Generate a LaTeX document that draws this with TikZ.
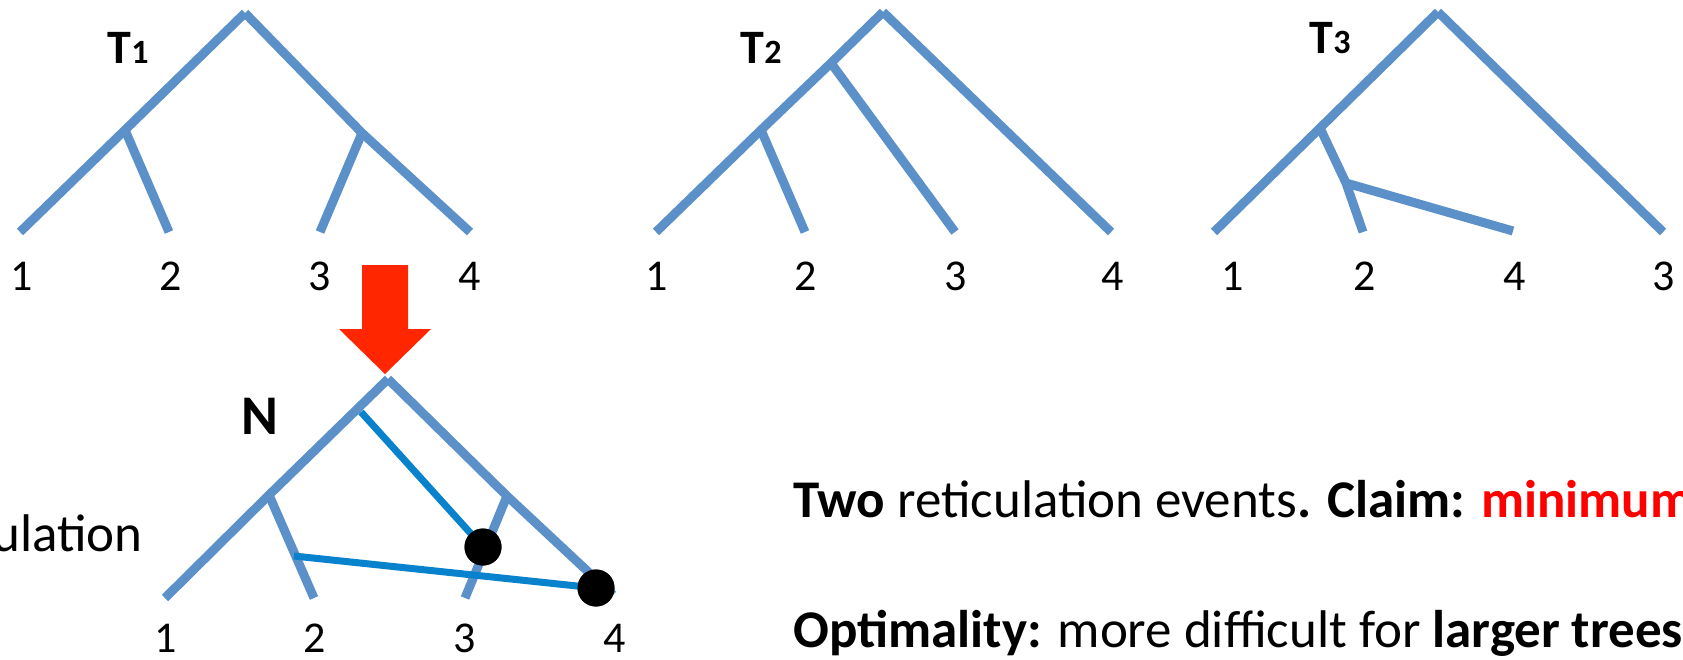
\documentclass[tikz,border=0pt]{standalone}
\usepackage{fontspec}
\setmainfont{Carlito}
\definecolor{treeblue}{RGB}{91,145,200}
\definecolor{retblue}{RGB}{8,130,204}
\definecolor{arrred}{RGB}{255,38,0}
\tikzset{
  edge/.style={draw=treeblue, line width=9pt},
  retedge/.style={draw=retblue, line width=7pt},
  leaflab/.style={font=\fontsize{44}{48}\selectfont, inner sep=0pt, anchor=center},
  treelab/.style={font=\fontsize{48}{52}\selectfont\bfseries, inner sep=0pt},
  retdot/.style={circle, fill=black, minimum size=37pt, inner sep=0pt},
  bodytext/.style={font=\fontsize{53}{57}\selectfont, inner sep=0pt, anchor=base west},
}
\begin{document}
\begin{tikzpicture}[x=1pt,y=-1pt]
\useasboundingbox (0,0) rectangle (1683,659);
\clip (0,0) rectangle (1683,659);
% ---------- T1 ----------
\coordinate (a0) at (245,13);
\coordinate (a12) at (125,130);
\coordinate (a34) at (362,133);
\coordinate (a1) at (20,232);
\coordinate (a2) at (169,232);
\coordinate (a3) at (320,232);
\coordinate (a4) at (470,232);
\draw[edge] (a0) -- (a12) -- (a1);
\draw[edge] (a12) -- (a2);
\draw[edge] (a0) -- (a34) -- (a4);
\draw[edge] (a34) -- (a3);
\node[treelab, anchor=base] (t1) at (128,63) {T\fontsize{34}{36}\selectfont 1};
\node[leaflab] (l1a) at (22,276) {1};
\node[leaflab] (l2a) at (171,276) {2};
\node[leaflab] (l3a) at (320,276) {3};
\node[leaflab] (l4a) at (470,276) {4};
% ---------- T2 ----------
\coordinate (b0) at (883,12);
\coordinate (b123) at (831,63);
\coordinate (b12) at (761,130);
\coordinate (b1) at (656,232);
\coordinate (b2) at (805,232);
\coordinate (b3) at (955,232);
\coordinate (b4) at (1111,232);
\draw[edge] (b0) -- (b123) -- (b12) -- (b1);
\draw[edge] (b12) -- (b2);
\draw[edge] (b123) -- (b3);
\draw[edge] (b0) -- (b4);
\node[treelab, anchor=base] (t2) at (761,63) {T\fontsize{34}{36}\selectfont 2};
\node[leaflab] (l1b) at (657,276) {1};
\node[leaflab] (l2b) at (806,276) {2};
\node[leaflab] (l3b) at (956,276) {3};
\node[leaflab] (l4b) at (1113,276) {4};
% ---------- T3 ----------
\coordinate (c0) at (1438,12);
\coordinate (c124) at (1320,128);
\coordinate (c24) at (1346,183);
\coordinate (c1) at (1214,232);
\coordinate (c2) at (1363,232);
\coordinate (c4) at (1513,231);
\coordinate (c3) at (1663,232);
\draw[edge] (c0) -- (c124) -- (c1);
\draw[edge] (c124) -- (c24) -- (c2);
\draw[edge] (c24) -- (c4);
\draw[edge] (c0) -- (c3);
\node[treelab, anchor=base] (t3) at (1330,53) {T\fontsize{34}{36}\selectfont 3};
\node[leaflab] (l1c) at (1233,276) {1};
\node[leaflab] (l2c) at (1365,276) {2};
\node[leaflab] (l4c) at (1515,276) {4};
\node[leaflab] (l3c) at (1664,276) {3};
% ---------- red arrow ----------
\fill[arrred] (362,265) -- (408,265) -- (408,329) -- (431,329) -- (385,374)
  -- (339,329) -- (362,329) -- cycle;
% ---------- N ----------
\coordinate (n0) at (388,379);
\coordinate (n12) at (269,495);
\coordinate (n34) at (507,496);
\coordinate (n1) at (165,598);
\coordinate (n2) at (314,598);
\coordinate (n3) at (465,598);
\coordinate (n4) at (613,595);
\coordinate (r1s) at (361,412);
\coordinate (r2s) at (294,556);
\draw[edge] (n0) -- (n12) -- (n1);
\draw[edge] (n12) -- (n2);
\draw[edge] (n0) -- (n34) -- (n4);
\draw[edge] (n34) -- (n3);
\node[retdot] (d1) at (483,547) {};
\node[retdot] (d2) at (596,588) {};
\draw[retedge] (r1s) -- (d1.center);
\draw[retedge] (r2s) -- (d2.center);
\node[retdot] at (483,547) {};
\node[retdot] at (596,588) {};
\node[treelab, font=\fontsize{56}{60}\selectfont\bfseries, anchor=base] (nl) at (260,434) {N};
\node[leaflab] (l1n) at (166,638) {1};
\node[leaflab] (l2n) at (315,638) {2};
\node[leaflab] (l3n) at (465,638) {3};
\node[leaflab] (l4n) at (615,638) {4};
\node[bodytext, anchor=base east] (ret) at (143,551) {ulation};
% ---------- text ----------
\node[bodytext] (line1) at (793,517) {\textbf{Two} reticulation events\textbf{. Claim:} \textcolor{red}{\textbf{minimum}}};
\node[bodytext] (line2) at (793,647) {\textbf{Optimality:} more difficult for \textbf{larger trees}};
\end{tikzpicture}
\end{document}
